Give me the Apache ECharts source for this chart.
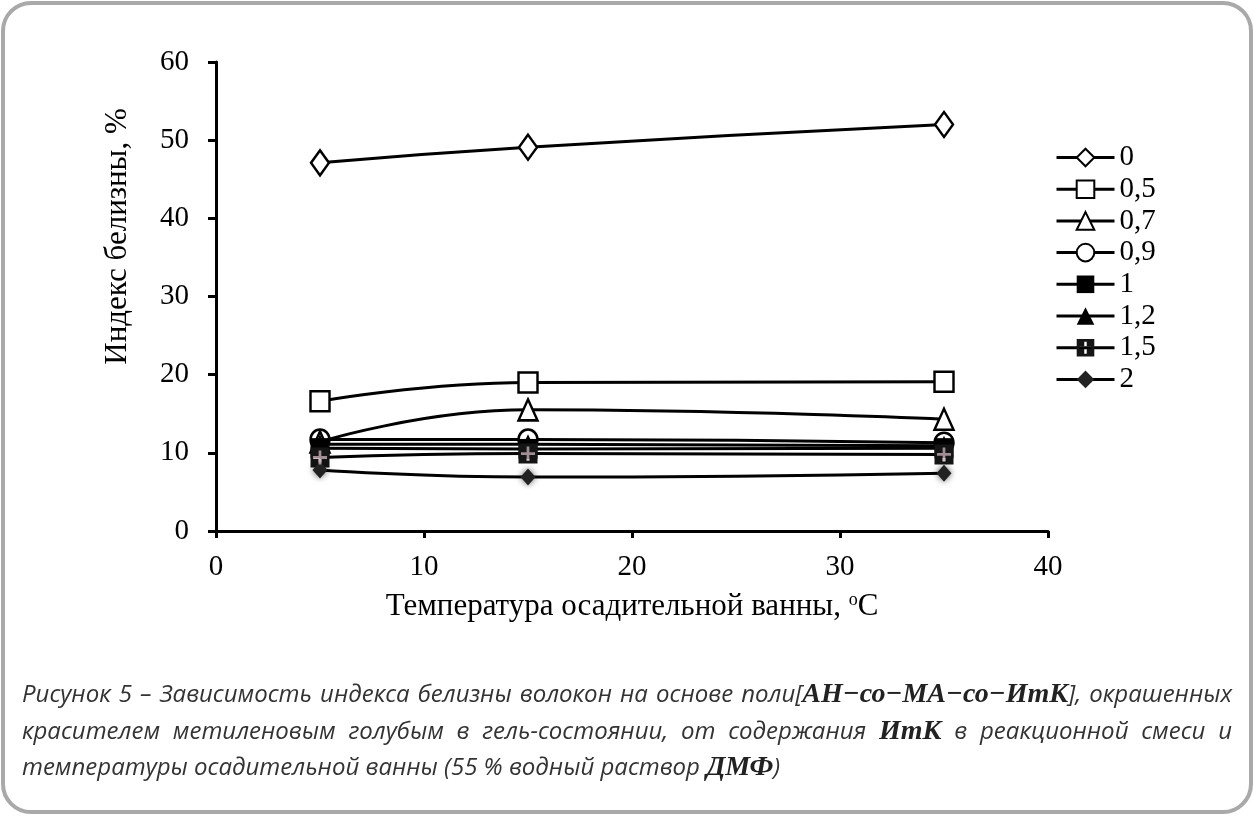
<!DOCTYPE html>
<html>
<head>
<meta charset="utf-8">
<script src="https://cdn.jsdelivr.net/npm/echarts@6/dist/echarts.min.js"></script>
<style>
  html, body { margin: 0; padding: 0; background: #fff; }
  #wrap { position: relative; width: 1254px; height: 816px; overflow: hidden; }
  #chart { position: absolute; left: 0; top: 0; width: 1254px; height: 816px; }
  .cap { position: absolute; left: 22px; width: 1210px; font-family: "Open Sans", sans-serif;
         font-style: italic; font-size: 24px; color: #333; white-space: nowrap; line-height: 28px; }
  .just { text-align: justify; text-align-last: justify; white-space: normal; }
  .cap b { font-family: "Liberation Serif", serif; font-weight: bold; font-style: italic; font-size: 28px; color: #222; }
</style>
</head>
<body>
<div id="wrap">
  <div id="chart"></div>
  <div class="cap just" style="top:679px">Рисунок 5 – Зависимость индекса белизны волокон на основе поли[<b>АН−со−МА−со−ИтК</b>], окрашенных</div>
  <div class="cap just" style="top:716px">красителем метиленовым голубым в гель-состоянии, от содержания <b>ИтК</b> в реакционной смеси и</div>
  <div class="cap" style="top:752px">температуры осадительной ванны (55 % водный раствор <b>ДМФ</b>)</div>
</div>
<script>
// Temperature of the precipitation bath, °C
const temps = [5, 15, 35];
// Whiteness index (%) for each ItK content in the reaction mixture
const itkLabels = ['0', '0,5', '0,7', '0,9', '1', '1,2', '1,5', '2'];
const w0  = [47.1, 49.1, 52.0];
const w05 = [16.6, 19.0, 19.1];
const w07 = [11.4, 15.5, 14.3];
const w09 = [11.7, 11.7, 11.3];
const w1  = [10.6, 10.5, 10.6];
const w12 = [11.1, 11.1, 10.9];
const w15 = [9.4, 9.9, 9.8];
const w2  = [7.8, 6.9, 7.4];
const xTicks = [0, 10, 20, 30, 40];
const yTicks = [0, 10, 20, 30, 40, 50, 60];

const serif = 'Liberation Serif';
const pairs = (ys) => temps.map((t, i) => [t, ys[i]]);

// filled square with a plus cut through it
const crossSquare = 'path://M0,0H10V10H0Z M4.3,1.6V4.3H1.6V5.7H4.3V8.4H5.7V5.7H8.4V4.3H5.7V1.6Z';
const plus = 'path://M4,0H6V4H10V6H6V10H4V6H0V4H4Z';

function lineSeries(name, ys, symbol, size, filled, extra) {
  return Object.assign({
    name: name,
    type: 'line',
    data: pairs(ys),
    smooth: 0.5,
    symbol: symbol,
    symbolSize: size,
    showAllSymbol: true,
    lineStyle: { color: '#000', width: 3 },
    itemStyle: { color: filled ? '#000' : '#fff', borderColor: '#000', borderWidth: filled ? 0 : 2.5 },
    emphasis: { disabled: true },
    z: 2
  }, extra || {});
}

const series = [
  lineSeries(itkLabels[0], w0, 'diamond', [18, 25], false),
  lineSeries(itkLabels[1], w05, 'rect', [19, 20], false),
  lineSeries(itkLabels[2], w07, 'triangle', [19, 21], false),
  lineSeries(itkLabels[3], w09, 'circle', [19, 20], false, { z: 1 }),
  lineSeries(itkLabels[4], w1, 'rect', [19, 20], true),
  lineSeries(itkLabels[5], w12, 'triangle', [19, 20], true),
  lineSeries(itkLabels[6], w15, crossSquare, [19, 20], true, { itemStyle: { color: '#151515' } }),
  lineSeries(itkLabels[7], w2, 'diamond', [15, 17], true,
    { itemStyle: { color: '#222', shadowBlur: 6, shadowColor: 'rgba(0,0,0,0.6)' } }),
  // light plus laid over the 1,5 squares
  {
    name: 'plus15', type: 'scatter', data: pairs(w15), symbol: plus,
    symbolSize: 14, itemStyle: { color: '#c9b1ba' }, silent: true, z: 5
  }
];

const chart = echarts.init(document.getElementById('chart'), null, { renderer: 'canvas' });
chart.setOption({
  animation: false,
  backgroundColor: 'transparent',
  grid: { left: 216, top: 62, right: 206, bottom: 285, containLabel: false },
  graphic: [{
    type: 'rect', silent: true,
    shape: { x: 3, y: 3, width: 1248, height: 809, r: 28 },
    style: { fill: 'none', stroke: '#a9a9a9', lineWidth: 4 }
  }],
  legend: {
    orient: 'vertical', left: 1050, top: 138,
    itemWidth: 58, itemHeight: 22, itemGap: 2.7,
    lineStyle: { width: 3 },
    textStyle: { fontFamily: serif, fontSize: 29, color: '#000', lineHeight: 29 },
    data: itkLabels
  },
  xAxis: {
    type: 'value', min: xTicks[0], max: xTicks[xTicks.length - 1], interval: 10,
    name: 'Температура осадительной ванны, {sup|o}C',
    nameLocation: 'middle', nameGap: 60,
    nameTextStyle: {
      fontFamily: serif, fontSize: 31, color: '#000',
      rich: { sup: { fontFamily: serif, fontSize: 18, verticalAlign: 'top', padding: [0, 0, 12, 0], color: '#000' } }
    },
    axisLine: { lineStyle: { color: '#000', width: 3 } },
    axisTick: { show: true, inside: false, length: 7, lineStyle: { color: '#000', width: 3 } },
    axisLabel: { fontFamily: serif, fontSize: 29, color: '#000', margin: 22 },
    splitLine: { show: false }
  },
  yAxis: {
    type: 'value', min: yTicks[0], max: yTicks[yTicks.length - 1], interval: 10,
    name: 'Индекс белизны, %',
    nameLocation: 'middle', nameGap: 83, nameRotate: 90,
    // the title sits a little above the middle of the axis
    nameTextStyle: { fontFamily: serif, fontSize: 31, color: '#000', padding: [0, 0, 0, 120] },
    axisLine: { show: true, lineStyle: { color: '#000', width: 3 } },
    axisTick: { show: true, inside: false, length: 8, lineStyle: { color: '#000', width: 3 } },
    axisLabel: { fontFamily: serif, fontSize: 29, color: '#000', margin: 27 },
    splitLine: { show: false }
  },
  series: series
});
</script>
</body>
</html>
